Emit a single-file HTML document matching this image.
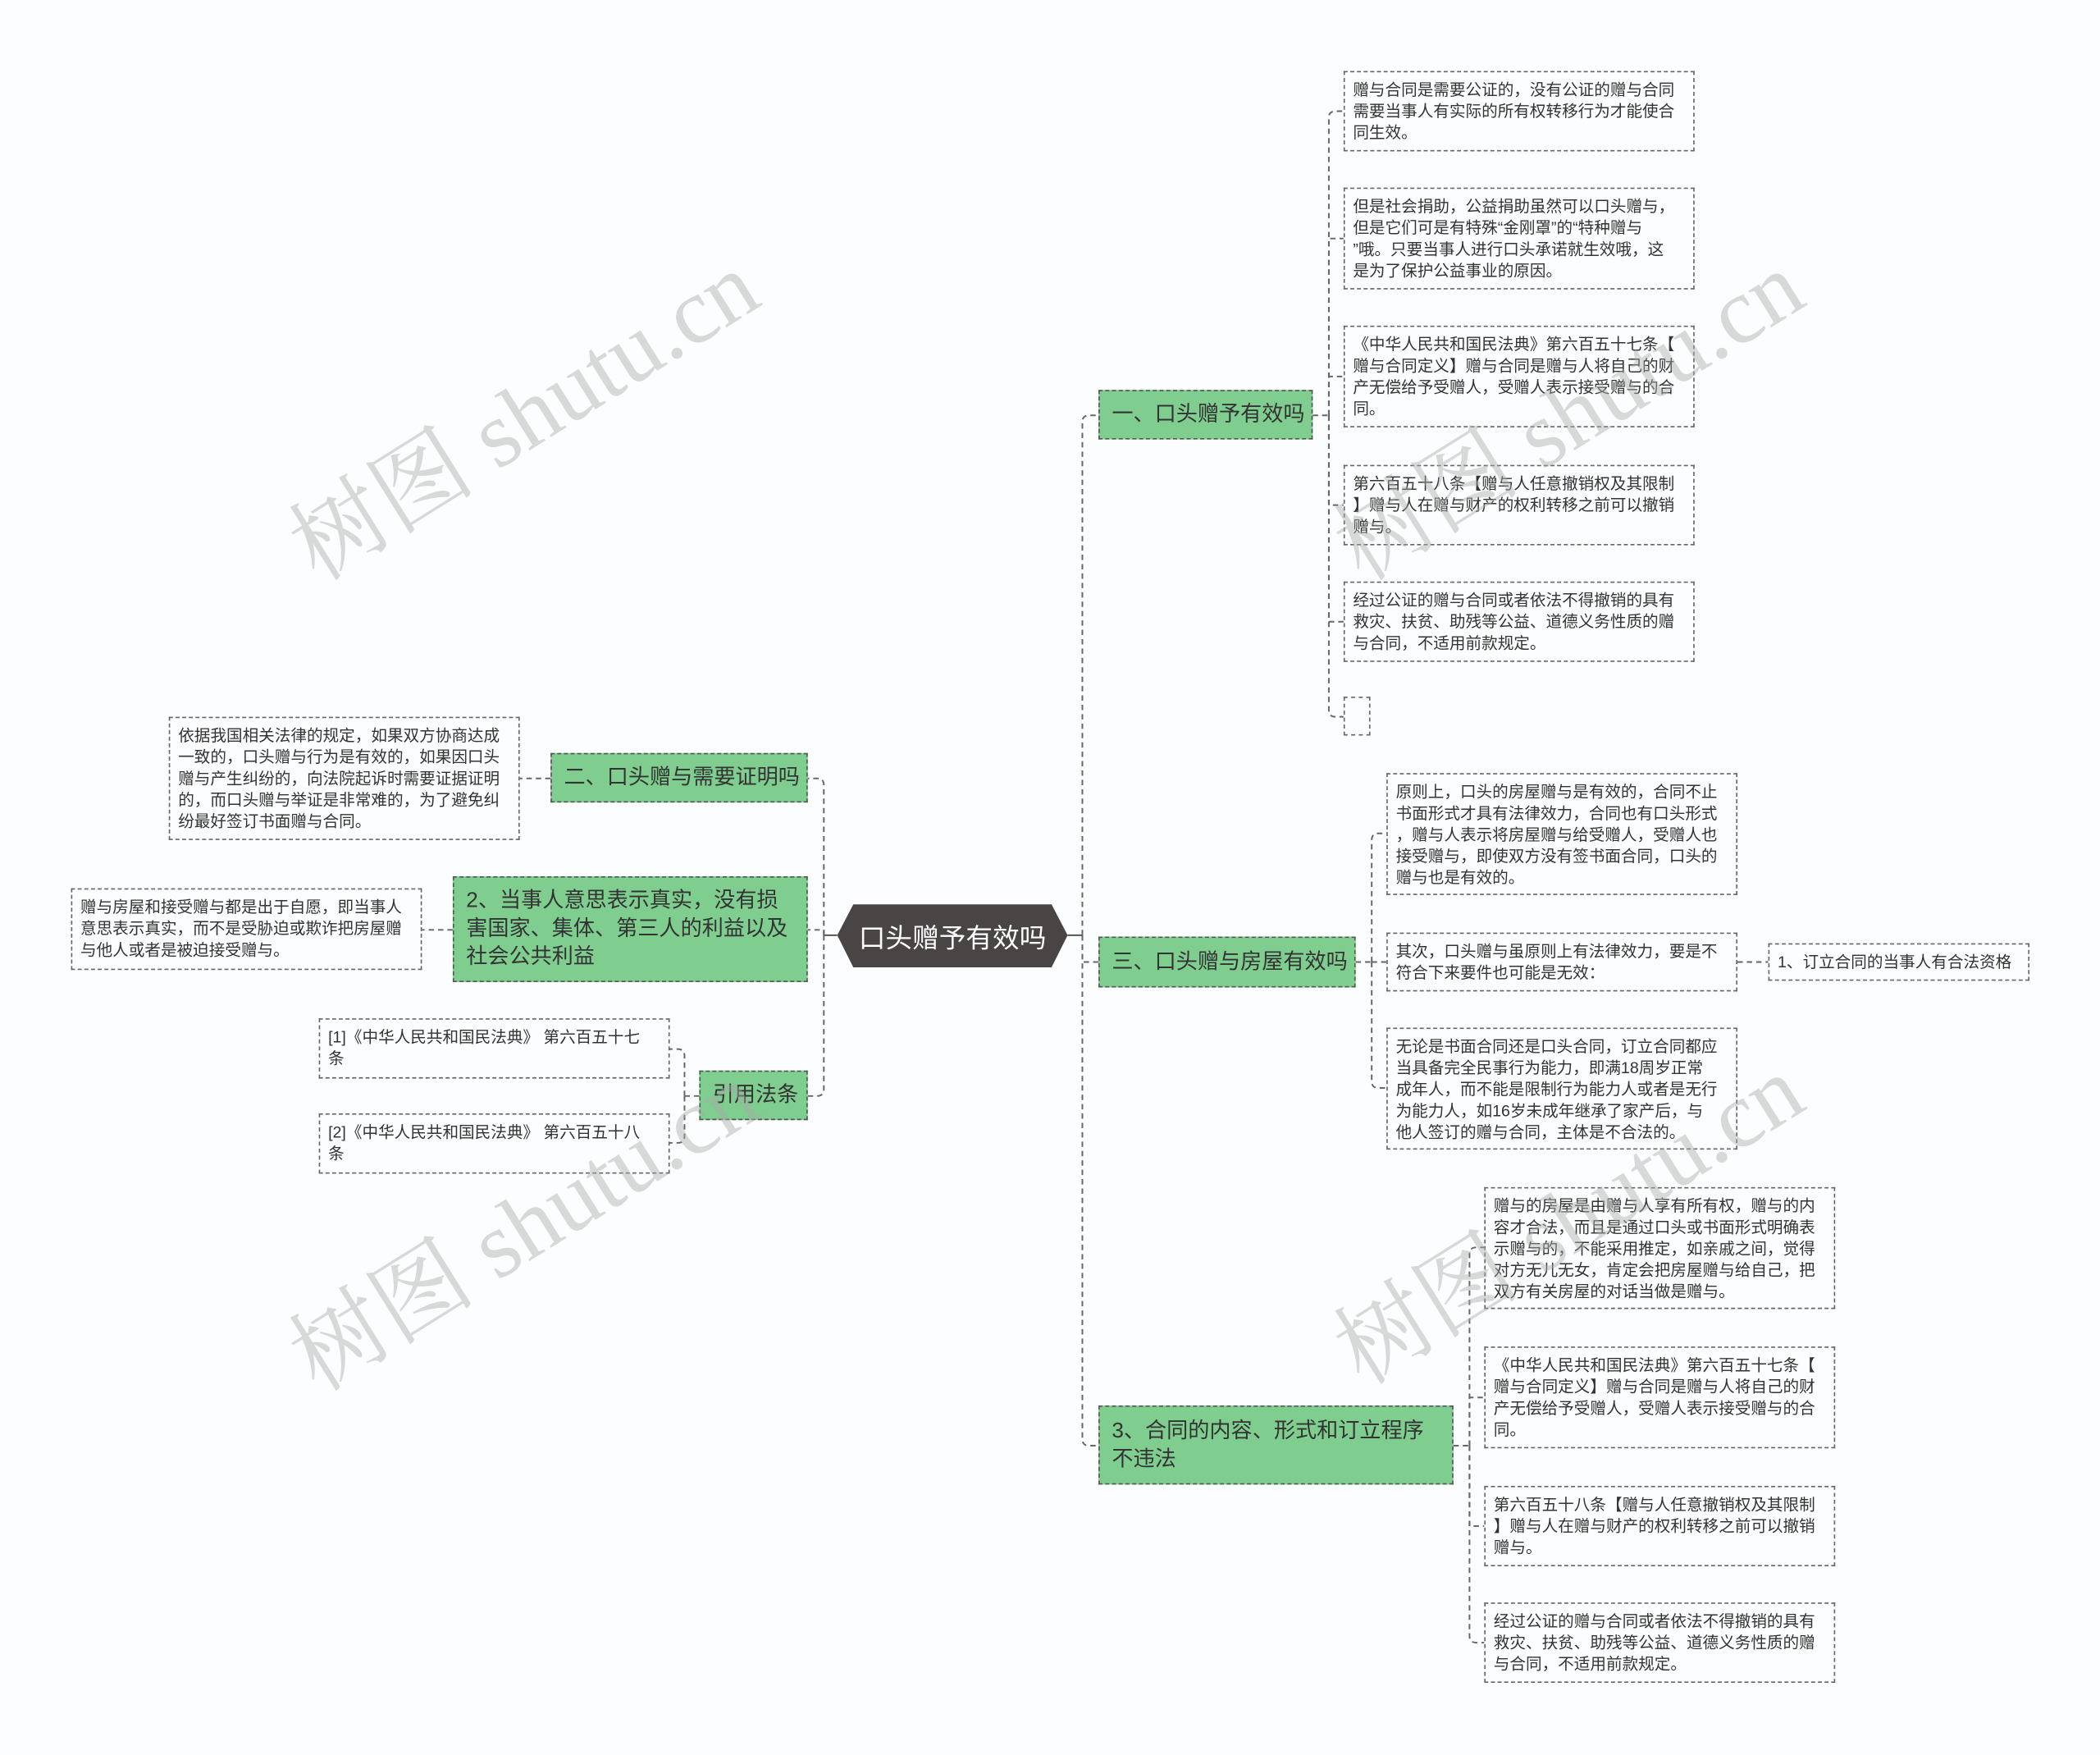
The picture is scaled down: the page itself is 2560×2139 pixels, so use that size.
<!DOCTYPE html>
<html><head><meta charset="utf-8">
<style>
html,body{margin:0;padding:0;background:#fbfdfe;}
#wrap{position:relative;width:2560px;height:2139px;overflow:hidden;background:#fbfdfe;}
#s{position:absolute;left:0;top:0;width:1560px;height:1303px;transform:scale(1.633);transform-origin:0 0;font-family:"Liberation Sans","Noto Sans CJK SC",sans-serif;}
.b{position:absolute;box-sizing:border-box;border:1px dashed #666;padding:5px 6px;font-size:12px;line-height:16px;color:#333;background:#fbfdfe;white-space:nowrap;}
.g{position:absolute;box-sizing:border-box;border:1px dashed #555;background:#7fcd8f;color:#333;font-size:16px;line-height:21px;padding:0 9px;display:flex;align-items:center;white-space:nowrap;}
.wm{position:absolute;font-size:70px;color:rgba(170,170,170,0.45);transform:rotate(-32deg);transform-origin:0 0;white-space:nowrap;font-family:"Liberation Serif","Noto Serif CJK SC",serif;}
</style></head><body><div id="wrap"><div id="s">
<svg width="1560" height="1303" style="position:absolute;left:0;top:0" fill="none" stroke="#666" stroke-width="1.2" stroke-dasharray="4,3">
<polygon points="637,675 785,675 797,698 785,722 637,722 625,698" fill="#4a4545" stroke="none"/>
<path d="M797,698 H808" stroke-dasharray="none" stroke="#555"/>
<path d="M808,698 V315 Q808,310 813,310 H820"/>
<path d="M808,698 V718 H820"/>
<path d="M808,698 V1074 Q808,1079 813,1079 H820"/>
<path d="M625,698 H615" stroke-dasharray="none" stroke="#555"/>
<path d="M615,698 V586 Q615,581 610,581 H603"/>
<path d="M615,698 V694 H603"/>
<path d="M615,698 V813 Q615,818 610,818 H603"/>
<path d="M980,310 H992"/>
<path d="M992,310 V88 Q992,83 997,83 H1003"/>
<path d="M992,310 V178 H1003"/>
<path d="M992,310 V281 H1003"/>
<path d="M992,310 V377 H1003"/>
<path d="M992,310 V464 H1003"/>
<path d="M992,310 V530 Q992,535 997,535 H1003"/>
<path d="M1012,718 H1024"/>
<path d="M1024,718 V627 Q1024,622 1029,622 H1035"/>
<path d="M1024,718 H1035"/>
<path d="M1024,718 V807 Q1024,812 1029,812 H1035"/>
<path d="M1297,718 H1320"/>
<path d="M1085,1079 H1097"/>
<path d="M1097,1079 V936 Q1097,931 1102,931 H1108"/>
<path d="M1097,1079 V1043 H1108"/>
<path d="M1097,1079 V1139 H1108"/>
<path d="M1097,1079 V1221 Q1097,1226 1102,1226 H1108"/>
<path d="M411,581 H388"/>
<path d="M338,694 H315"/>
<path d="M522,818 H511"/>
<path d="M511,818 V788 Q511,783 506,783 H500"/>
<path d="M511,818 V848 Q511,853 506,853 H500"/>
</svg>
<div style="position:absolute;left:625px;top:675px;width:172px;height:47px;display:flex;align-items:center;justify-content:center;color:#fff;font-size:20px;">口头赠予有效吗</div>

<div class="g" style="left:820px;top:291px;width:160px;height:37px;">一、口头赠予有效吗</div>
<div class="g" style="left:820px;top:699px;width:192px;height:38px;">三、口头赠与房屋有效吗</div>
<div class="g" style="left:820px;top:1049px;width:265px;height:59px;white-space:normal;">3、合同的内容、形式和订立程序不违法</div>
<div class="g" style="left:411px;top:562px;width:192px;height:37px;">二、口头赠与需要证明吗</div>
<div class="g" style="left:338px;top:654px;width:265px;height:79px;white-space:normal;">2、当事人意思表示真实，没有损害国家、集体、第三人的利益以及社会公共利益</div>
<div class="g" style="left:522px;top:799px;width:81px;height:37px;">引用法条</div>

<div class="b" style="left:1003px;top:53px;width:262px;height:60px;">赠与合同是需要公证的，没有公证的赠与合同<br>需要当事人有实际的所有权转移行为才能使合<br>同生效。</div>
<div class="b" style="left:1003px;top:140px;width:262px;height:76px;">但是社会捐助，公益捐助虽然可以口头赠与，<br>但是它们可是有特殊“金刚罩”的“特种赠与<br>”哦。只要当事人进行口头承诺就生效哦，这<br>是为了保护公益事业的原因。</div>
<div class="b" style="left:1003px;top:243px;width:262px;height:76px;">《中华人民共和国民法典》第六百五十七条【<br>赠与合同定义】赠与合同是赠与人将自己的财<br>产无偿给予受赠人，受赠人表示接受赠与的合<br>同。</div>
<div class="b" style="left:1003px;top:347px;width:262px;height:60px;">第六百五十八条【赠与人任意撤销权及其限制<br>】赠与人在赠与财产的权利转移之前可以撤销<br>赠与。</div>
<div class="b" style="left:1003px;top:434px;width:262px;height:60px;">经过公证的赠与合同或者依法不得撤销的具有<br>救灾、扶贫、助残等公益、道德义务性质的赠<br>与合同，不适用前款规定。</div>
<div class="b" style="left:1003px;top:520px;width:20px;height:29px;"></div>

<div class="b" style="left:1035px;top:577px;width:262px;height:91px;">原则上，口头的房屋赠与是有效的，合同不止<br>书面形式才具有法律效力，合同也有口头形式<br>，赠与人表示将房屋赠与给受赠人，受赠人也<br>接受赠与，即使双方没有签书面合同，口头的<br>赠与也是有效的。</div>
<div class="b" style="left:1035px;top:696px;width:262px;height:44px;">其次，口头赠与虽原则上有法律效力，要是不<br>符合下来要件也可能是无效：</div>
<div class="b" style="left:1035px;top:767px;width:262px;height:91px;">无论是书面合同还是口头合同，订立合同都应<br>当具备完全民事行为能力，即满18周岁正常<br>成年人，而不能是限制行为能力人或者是无行<br>为能力人，如16岁未成年继承了家产后，与<br>他人签订的赠与合同，主体是不合法的。</div>
<div class="b" style="left:1320px;top:704px;width:195px;height:28px;">1、订立合同的当事人有合法资格</div>

<div class="b" style="left:1108px;top:886px;width:262px;height:91px;">赠与的房屋是由赠与人享有所有权，赠与的内<br>容才合法，而且是通过口头或书面形式明确表<br>示赠与的，不能采用推定，如亲戚之间，觉得<br>对方无儿无女，肯定会把房屋赠与给自己，把<br>双方有关房屋的对话当做是赠与。</div>
<div class="b" style="left:1108px;top:1005px;width:262px;height:76px;">《中华人民共和国民法典》第六百五十七条【<br>赠与合同定义】赠与合同是赠与人将自己的财<br>产无偿给予受赠人，受赠人表示接受赠与的合<br>同。</div>
<div class="b" style="left:1108px;top:1109px;width:262px;height:60px;">第六百五十八条【赠与人任意撤销权及其限制<br>】赠与人在赠与财产的权利转移之前可以撤销<br>赠与。</div>
<div class="b" style="left:1108px;top:1196px;width:262px;height:60px;">经过公证的赠与合同或者依法不得撤销的具有<br>救灾、扶贫、助残等公益、道德义务性质的赠<br>与合同，不适用前款规定。</div>

<div class="b" style="left:126px;top:535px;width:262px;height:92px;">依据我国相关法律的规定，如果双方协商达成<br>一致的，口头赠与行为是有效的，如果因口头<br>赠与产生纠纷的，向法院起诉时需要证据证明<br>的，而口头赠与举证是非常难的，为了避免纠<br>纷最好签订书面赠与合同。</div>
<div class="b" style="left:53px;top:663px;width:262px;height:61px;">赠与房屋和接受赠与都是出于自愿，即当事人<br>意思表示真实，而不是受胁迫或欺诈把房屋赠<br>与他人或者是被迫接受赠与。</div>
<div class="b" style="left:238px;top:760px;width:262px;height:45px;">[1]《中华人民共和国民法典》 第六百五十七<br>条</div>
<div class="b" style="left:238px;top:831px;width:262px;height:45px;">[2]《中华人民共和国民法典》 第六百五十八<br>条</div>

<div class="wm" style="left:195px;top:367px;">树图 shutu.cn</div>
<div class="wm" style="left:195px;top:972px;">树图 shutu.cn</div>
<div class="wm" style="left:975px;top:367px;">树图 shutu.cn</div>
<div class="wm" style="left:975px;top:967px;">树图 shutu.cn</div>
</div></div></body></html>
